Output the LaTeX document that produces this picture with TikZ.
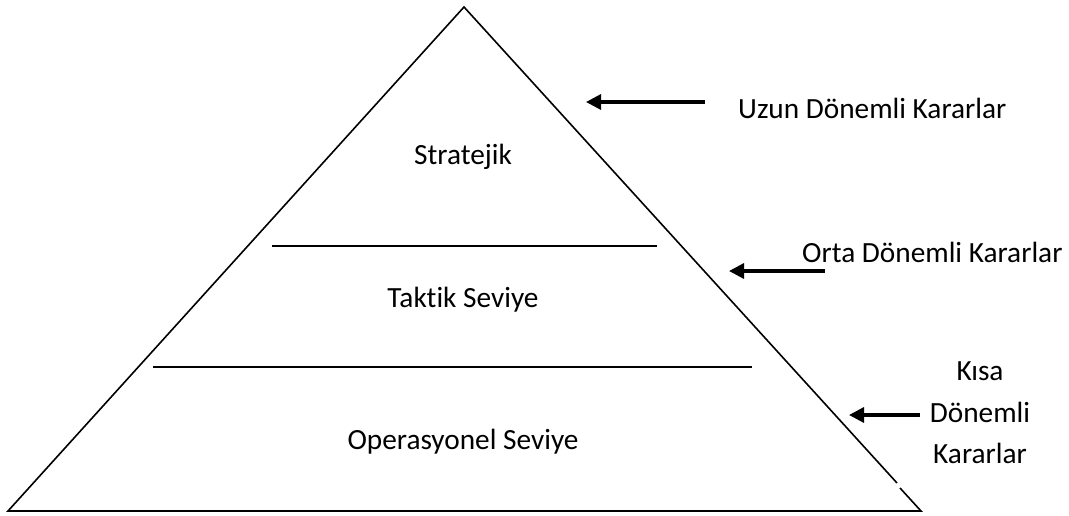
\documentclass[tikz,border=0pt]{standalone}
\usepackage{fontspec}
\setmainfont{Carlito}[Ligatures=NoCommon]
\usetikzlibrary{arrows.meta}
\begin{document}
\begin{tikzpicture}[x=1pt,y=-1pt,
  edge/.style={line width=1.6pt,black},
  divider/.style={line width=2.2pt,black},
  pointer/.style={line width=3.2pt,black,-{Triangle[length=15pt,width=15pt]}},
  txt/.style={font=\fontsize{29.3}{35}\selectfont,inner sep=0pt},
  lbl/.style={txt,anchor=center},
  side/.style={txt,anchor=base west},
  stack/.style={txt,anchor=base}]
\useasboundingbox (0,0) rectangle (1069,515);
% pyramid outline
\coordinate (apex) at (464,7);
\coordinate (bl) at (8,511);
\coordinate (br) at (921,511);
\coordinate (gapA) at (897,483);
\coordinate (gapB) at (900,488);
\draw[edge] (gapA) -- (apex) -- (bl) -- (br) -- (gapB);
% level dividers
\coordinate (d1l) at (272,246);
\coordinate (d1r) at (657,246);
\coordinate (d2l) at (153,367);
\coordinate (d2r) at (752,367);
\draw[divider] (d1l) -- (d1r);
\draw[divider] (d2l) -- (d2r);
% level names
\node[lbl] (strat) at (463,157) {Stratejik};
\node[lbl] (takt) at (463,300) {Taktik Seviye};
\node[lbl] (oper) at (463,442) {Operasyonel Seviye};
% decision horizons
\node[side] (uzun) at (738,118) {Uzun Dönemli Kararlar};
\node[side] (orta) at (802,262) {Orta Dönemli Kararlar};
\node[stack] (kisa1) at (980,380) {Kısa};
\node[stack] (kisa2) at (980,422) {Dönemli};
\node[stack] (kisa3) at (980,463) {Kararlar};
% arrows
\coordinate (a1s) at (705,102);
\coordinate (a1e) at (586,102);
\coordinate (a2s) at (825,271);
\coordinate (a2e) at (729,271);
\coordinate (a3s) at (920,415);
\coordinate (a3e) at (849,415);
\draw[pointer] (a1s) -- (a1e);
\draw[pointer] (a2s) -- (a2e);
\draw[pointer] (a3s) -- (a3e);
\end{tikzpicture}
\end{document}
